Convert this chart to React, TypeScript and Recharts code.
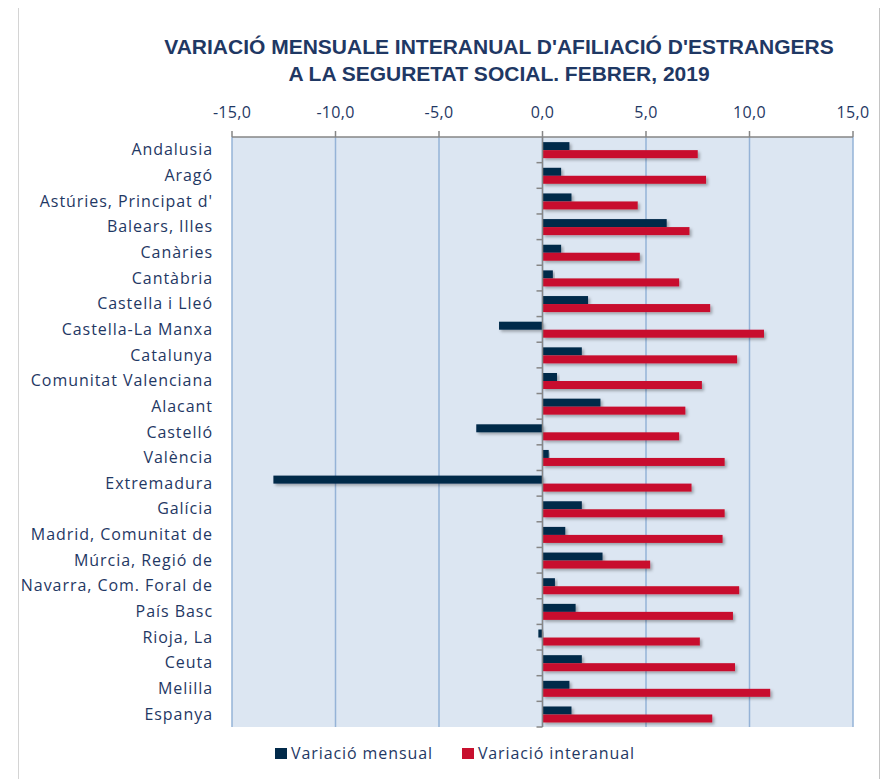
import React from "react";
import {
  BarChart,
  Bar,
  XAxis,
  YAxis,
  CartesianGrid,
  ReferenceLine,
  Legend,
} from "recharts";

const categories = [
  "Andalusia",
  "Aragó",
  "Astúries, Principat d'",
  "Balears, Illes",
  "Canàries",
  "Cantàbria",
  "Castella i Lleó",
  "Castella-La Manxa",
  "Catalunya",
  "Comunitat Valenciana",
  "Alacant",
  "Castelló",
  "València",
  "Extremadura",
  "Galícia",
  "Madrid, Comunitat de",
  "Múrcia, Regió de",
  "Navarra, Com. Foral de",
  "País Basc",
  "Rioja, La",
  "Ceuta",
  "Melilla",
  "Espanya",
];

const mensual = [
  1.3, 0.9, 1.4, 6.0, 0.9, 0.5, 2.2, -2.1, 1.9, 0.7, 2.8, -3.2, 0.3, -13.0, 1.9,
  1.1, 2.9, 0.6, 1.6, -0.2, 1.9, 1.3, 1.4,
];

const interanual = [
  7.5, 7.9, 4.6, 7.1, 4.7, 6.6, 8.1, 10.7, 9.4, 7.7, 6.9, 6.6, 8.8, 7.2, 8.8,
  8.7, 5.2, 9.5, 9.2, 7.6, 9.3, 11.0, 8.2,
];

const seriesNames = ["Variació mensual", "Variació interanual"];

const xTicks = [-15, -10, -5, 0, 5, 10, 15];

const titleLines = [
  "VARIACIÓ MENSUALE INTERANUAL D'AFILIACIÓ D'ESTRANGERS",
  "A LA SEGURETAT SOCIAL. FEBRER, 2019",
];

const data = categories.map((name, i) => ({
  name,
  mensual: mensual[i],
  interanual: interanual[i],
}));

const NAVY = "#1f3864";
const DARK = "#022a4a";
const RED = "#c8102e";
const AXIS_GRAY = "#868686";
const FONT = "'Open Sans', sans-serif";

const CHART_W = 872;
const CHART_H = 771;
const MARGIN = { top: 99, right: 27, bottom: 52, left: 24 };
const Y_AXIS_W = 200;
const X_AXIS_H = 30;
const PLOT_LEFT = MARGIN.left + Y_AXIS_W;
const PLOT_W = CHART_W - PLOT_LEFT - MARGIN.right;
const PLOT_H = CHART_H - MARGIN.top - X_AXIS_H - MARGIN.bottom;
const BAND = PLOT_H / categories.length;
const ZERO_X = PLOT_LEFT + (PLOT_W * (0 - xTicks[0])) / (xTicks[xTicks.length - 1] - xTicks[0]);

const fmt = (v: number) => v.toFixed(1).replace(".", ",");

const YTick = (props: any) => {
  const { x, y, payload } = props;
  return (
    <g>
      <line
        x1={ZERO_X - 6}
        x2={ZERO_X}
        y1={y + BAND / 2}
        y2={y + BAND / 2}
        stroke={AXIS_GRAY}
        strokeWidth={1.5}
      />
      <text
        x={x}
        y={y}
        dy={5.5}
        textAnchor="end"
        fill={NAVY}
        fontFamily={FONT}
        fontSize={16}
        letterSpacing={0.95}
      >
        {payload.value}
      </text>
    </g>
  );
};

const XTick = (props: any) => {
  const { x, y, payload } = props;
  return (
    <text
      x={x}
      y={y}
      textAnchor="middle"
      fill={NAVY}
      fontFamily={FONT}
      fontSize={16}
      letterSpacing={0.3}
    >
      {fmt(payload.value)}
    </text>
  );
};

const ShadowBar = (props: any) => {
  const { x, y, width, height, fill } = props;
  const w = Math.abs(width);
  const bx = width < 0 ? x + width : x;
  if (!w) return null;
  return <rect x={bx} y={y} width={w} height={height} fill={fill} filter="url(#barShadow)" />;
};

const renderLegend = (props: any) => {
  const payload = [...(props.payload || [])].sort(
    (a: any, b: any) => seriesNames.indexOf(a.value) - seriesNames.indexOf(b.value)
  );
  return (
    <div
      style={{
        display: "flex",
        justifyContent: "center",
        alignItems: "center",
        gap: 29,
        fontFamily: FONT,
        fontSize: 16,
        letterSpacing: 0.9,
        color: NAVY,
      }}
    >
      {payload.map((p: any) => (
        <div key={p.value} style={{ display: "flex", alignItems: "center" }}>
          <span
            style={{
              display: "inline-block",
              width: 12,
              height: 11,
              background: p.color,
              marginRight: 4,
            }}
          />
          <span>{p.value}</span>
        </div>
      ))}
    </div>
  );
};

export default function App() {
  return (
    <div style={{ position: "relative", width: CHART_W, height: CHART_H, overflow: "hidden" }}>
      <div
        style={{
          position: "absolute",
          left: 10,
          top: -1,
          width: 863,
          height: 820,
          borderLeft: "1px solid #d4d4d4",
          borderTop: "1px solid #d4d4d4",
          borderRight: "2px solid #c4c4c4",
          boxSizing: "border-box",
        }}
      />
      <div
        style={{
          position: "absolute",
          left: 91,
          top: 25,
          width: 800,
          textAlign: "center",
          fontFamily: "'Liberation Sans', Arial, sans-serif",
          fontWeight: 700,
          fontSize: 21,
          lineHeight: "27px",
          color: NAVY,
          letterSpacing: 0,
        }}
      >
        {titleLines.map((t) => (
          <div key={t}>{t}</div>
        ))}
      </div>
      <div style={{ position: "absolute", left: 0, top: 0 }}>
        <BarChart
          width={CHART_W}
          height={CHART_H}
          data={data}
          layout="vertical"
          margin={MARGIN}
          barCategoryGap="20%"
          barGap={0}
        >
          <defs>
            <filter id="barShadow" x="-10%" y="-50%" width="130%" height="250%">
              <feDropShadow dx="2" dy="2" stdDeviation="1.5" floodColor="#000" floodOpacity="0.3" />
            </filter>
          </defs>
          <CartesianGrid
            horizontal={false}
            vertical={true}
            stroke="#95b3d7"
            strokeWidth={1.5}
            fill="#dce6f2"
            fillOpacity={1}
          />
          <XAxis
            type="number"
            orientation="top"
            domain={[xTicks[0], xTicks[xTicks.length - 1]]}
            ticks={xTicks}
            height={X_AXIS_H}
            tick={<XTick />}
            tickSize={6}
            tickMargin={13}
            axisLine={{ stroke: AXIS_GRAY, strokeWidth: 1.5 }}
            tickLine={{ stroke: AXIS_GRAY, strokeWidth: 1.5 }}
            interval={0}
            allowDataOverflow
          />
          <YAxis
            type="category"
            dataKey="name"
            width={Y_AXIS_W}
            axisLine={false}
            tickLine={false}
            tickSize={0}
            tickMargin={19}
            interval={0}
            tick={<YTick />}
          />
          <ReferenceLine x={0} stroke={AXIS_GRAY} strokeWidth={1.5} ifOverflow="visible" />
          <Bar
            dataKey="mensual"
            name={seriesNames[0]}
            fill={DARK}
            shape={<ShadowBar />}
            isAnimationActive={false}
          />
          <Bar
            dataKey="interanual"
            name={seriesNames[1]}
            fill={RED}
            shape={<ShadowBar />}
            isAnimationActive={false}
          />
          <Legend
            verticalAlign="middle"
            align="center"
            layout="horizontal"
            content={renderLegend}
            wrapperStyle={{ position: "absolute", top: 734, left: 11, width: CHART_W, height: 22 }}
          />
        </BarChart>
      </div>
    </div>
  );
}
